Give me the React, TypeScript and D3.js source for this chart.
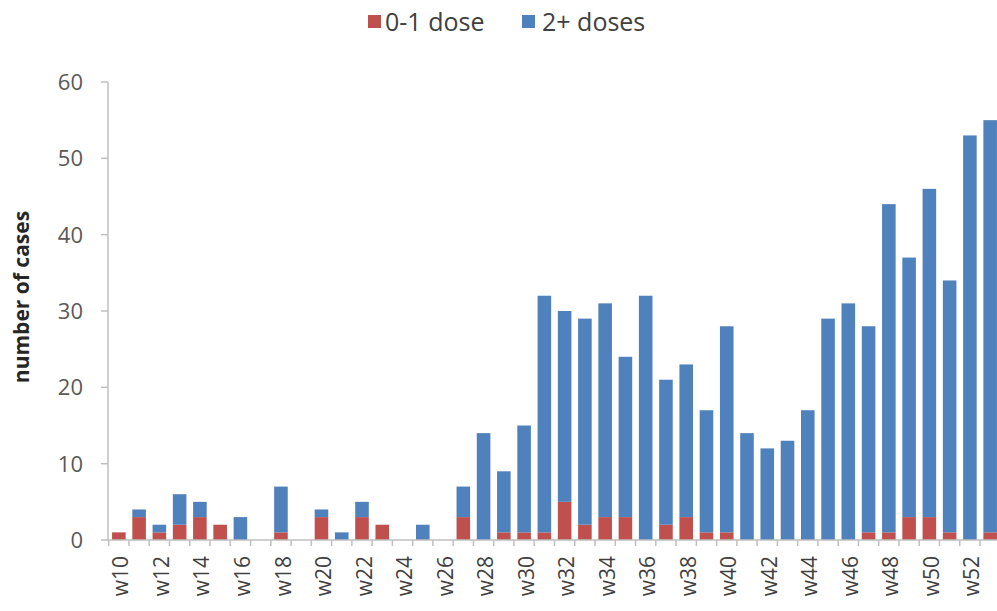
import React from "react";
import * as d3 from "d3";

const weeks = d3.range(10, 54).map((w) => `w${w}`);
const totalCases = [1, 4, 2, 6, 5, 2, 3, 0, 7, 0, 4, 1, 5, 2, 0, 2, 0, 7, 14, 9, 15, 32, 30, 29, 31, 24, 32, 21, 23, 17, 28, 14, 12, 13, 17, 29, 31, 28, 44, 37, 46, 34, 53, 55];
const lowDose = [1, 3, 1, 2, 3, 2, 0, 0, 1, 0, 3, 0, 3, 2, 0, 0, 0, 3, 0, 1, 1, 1, 5, 2, 3, 3, 0, 2, 3, 1, 1, 0, 0, 0, 0, 0, 0, 1, 1, 3, 3, 1, 0, 1];
const highDose = totalCases.map((t, i) => t - lowDose[i]);
const seriesNames = ["0-1 dose", "2+ doses"];
const colors = ["#C0504D", "#4F81BD"];
const yTicks = [0, 10, 20, 30, 40, 50, 60];

const W = 997;
const H = 611;
const left = 108;
const bottom = 540;
const top = 82;
const FONT = "'Open Sans', 'Liberation Sans', sans-serif";

export default function App() {
  const x = d3.scaleBand<string>().domain(weeks).range([left, 1001]).paddingInner(0.33).paddingOuter(0.2);
  const y = d3.scaleLinear().domain([0, 60]).range([bottom, top]);
  const step = x.step();
  const rows = weeks.map((w, i) => ({ w, low: lowDose[i], high: highDose[i] }));
  const stacked = d3.stack<any>().keys(["low", "high"])(rows);

  return (
    <svg width={W} height={H} style={{ position: "fixed", left: 0, top: 0, background: "#fff" }} fontFamily={FONT}>
      {/* legend */}
      <g>
        <rect x={368} y={15} width={13} height={13} fill={colors[0]} />
        <text x={385} y={31} fontSize={25} fill="#404040">{seriesNames[0]}</text>
        <rect x={522} y={15} width={13} height={13} fill={colors[1]} />
        <text x={542} y={31} fontSize={25} fill="#404040">{seriesNames[1]}</text>
      </g>
      {/* y axis */}
      <line x1={left} x2={left} y1={top} y2={bottom} stroke="#BFBFBF" strokeWidth={1.5} />
      {yTicks.map((t) => (
        <g key={t}>
          <line x1={left - 7} x2={left} y1={y(t)} y2={y(t)} stroke="#BFBFBF" strokeWidth={1.5} />
          <text x={83} y={y(t)} dy="0.36em" textAnchor="end" fontSize={22} fill="#595959">{t}</text>
        </g>
      ))}
      <text transform={`translate(29,${(top + bottom) / 2 - 14}) rotate(-90)`} textAnchor="middle" fontSize={21} fontWeight="bold" fill="#262626">number of cases</text>
      {/* bars */}
      {stacked.map((s, si) => (
        <g key={si} fill={colors[si]}>
          {s.map((d, i) => (
            <rect key={i} x={x(weeks[i])} width={x.bandwidth()} y={y(d[1])} height={y(d[0]) - y(d[1])} />
          ))}
        </g>
      ))}
      {/* x axis */}
      <line x1={left} x2={W} y1={bottom} y2={bottom} stroke="#BFBFBF" strokeWidth={1.5} />
      {weeks.map((w) => {
        const bx = (x(w) as number) - (step * 0.33) / 2;
        return <line key={w} x1={bx} x2={bx} y1={bottom} y2={bottom + 6} stroke="#BFBFBF" strokeWidth={1.5} />;
      })}
      {weeks.map((w, i) =>
        i % 2 === 0 ? (
          <text
            key={w}
            transform={`translate(${(x(w) as number) + x.bandwidth() / 2 + 2},556) rotate(-90)`}
            textAnchor="end"
            dy="0.36em"
            fontSize={21}
            fill="#404040"
          >
            {w}
          </text>
        ) : null
      )}
    </svg>
  );
}
